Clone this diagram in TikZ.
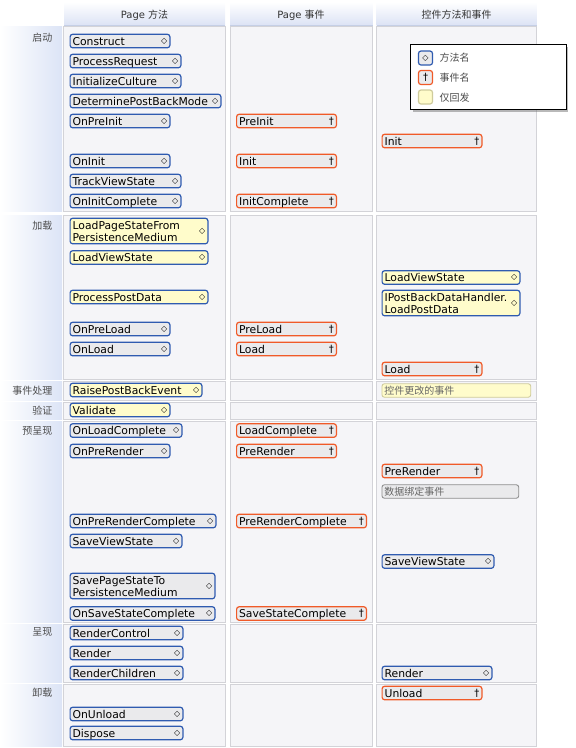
\documentclass[tikz,border=0pt]{standalone}
\usepackage{fontspec}
\setmainfont{DejaVu Sans}
\newfontfamily\cjk{Noto Sans CJK SC}
\usepackage{tikz}
\usetikzlibrary{shadows}

\definecolor{mblue}{HTML}{2F5BB0}
\definecolor{ered}{HTML}{F05A28}
\definecolor{boxgray}{HTML}{EAEAEC}
\definecolor{ylw}{HTML}{FFFCCB}
\definecolor{cellbg}{HTML}{F5F5F8}
\definecolor{cellline}{HTML}{D3D3D8}
\definecolor{lbl}{HTML}{DCE4F6}
\definecolor{hdr}{HTML}{DCE3F5}
\definecolor{hdrline}{HTML}{C5CFE6}
\definecolor{nline}{HTML}{CFCB9C}
\definecolor{dline}{HTML}{8E8E8E}

\begin{document}
\begin{tikzpicture}[x=1pt,y=-1pt,
  cell/.style={fill=cellbg,draw=cellline,line width=0.6pt},
  hd/.style={font=\fontsize{10}{12}\selectfont,text=black!80},
  lb/.style={anchor=east,font=\cjk\fontsize{10}{12}\selectfont,text=black!70},
  keytxt/.style={lb,anchor=west},
  box/.style={anchor=west,rounded corners=2.5pt,line width=1.2pt,fill=boxgray,
    inner xsep=2.5pt,inner ysep=1.5pt,text height=9.5pt,text depth=1pt,align=left,
    font=\fontsize{10.8}{12}\selectfont},
  w/.code={\pgfmathsetmacro\bwd{#1-6.2}\edef\bwset{\noexpand\pgfkeysalso{text width=\bwd pt}}\bwset},
  tall/.style={text depth=13pt},
  pb/.style={fill=ylw},
  icon/.style={anchor=east,inner sep=0pt,xshift=-3pt},
  meth/.style={box,draw=mblue,label={[icon,font=\fontsize{8}{8}\selectfont]east:◇}},
  evt/.style={box,draw=ered,label={[icon]east:†}},
  note/.style={box,line width=0.9pt,text=black!60,font=\cjk\fontsize{10}{12}\selectfont},
  key/.style={rounded corners=2.5pt,line width=1.2pt,minimum size=14pt,inner sep=0pt,fill=boxgray}]
\useasboundingbox (0,0) rectangle (576,748);

% rows and columns
\foreach \t/\b in {26/211.5,215/379.5,381.5/400,402/419.5,421.5/622,624/682.5,684/746}{
  \shade[left color=white,right color=lbl] (0,\t) rectangle (62,\b);
  \draw[cell] (63,\t) rectangle (225,\b);
  \draw[cell] (230,\t) rectangle (372.5,\b);
  \draw[cell] (376.5,\t) rectangle (536.5,\b);
}
\foreach \l/\r in {64/225,230/372.5,376.5/536.5}{
  \shade[top color=white,bottom color=hdr] (\l,2) rectangle (\r,25);
  \draw[hdrline] (\l,25) -- (\r,25);
}
\node[hd] (hmeth) at (144.5,15) {Page {\cjk 方法}};
\node[hd] (hevt) at (301,15) {Page {\cjk 事件}};
\node[hd,font=\cjk\fontsize{10}{12}\selectfont] (hctl) at (456.5,15) {控件方法和事件};

\node[lb] (start) at (56,38) {启动};
\node[lb] (load) at (56,226) {加载};
\node[lb] (events) at (56,391) {事件处理};
\node[lb] (valid) at (56,411) {验证};
\node[lb] (prerender) at (56,431) {预呈现};
\node[lb] (rendering) at (56,632) {呈现};
\node[lb] (unload) at (56,693) {卸载};

% legend
\node[draw=black,fill=white,line width=1pt,minimum width=155.5pt,minimum height=65pt,
  drop shadow={shadow xshift=2pt,shadow yshift=-2pt,fill=black!55}] (legend) at (488.3,77) {};
\node[key,draw=mblue,font=\fontsize{8}{8}\selectfont] (kmeth) at (425.5,58) {◇};
\node[key,draw=ered] (kevt) at (425.5,77.5) {†};
\node[key,draw=nline,fill=ylw] (kpb) at (425.5,97) {};
\node[keytxt] (tmeth) at (436,58) {方法名};
\node[keytxt] (tevt) at (436,78) {事件名};
\node[keytxt] (tpb) at (436,97.5) {仅回发};

% Page methods
\node[meth,w=101] (construct) at (69.5,41) {Construct};
\node[meth,w=112] (procreq) at (69.5,61) {ProcessRequest};
\node[meth,w=112] (initcult) at (69.5,81) {InitializeCulture};
\node[meth,w=152] (detpbm) at (69.5,101) {DeterminePostBackMode};
\node[meth,w=101] (onpreinit) at (69.5,121) {OnPreInit};
\node[meth,w=101] (oninit) at (69.5,161) {OnInit};
\node[meth,w=112] (trackvs) at (69.5,181) {TrackViewState};
\node[meth,w=112] (oninitc) at (69.5,201) {OnInitComplete};
\node[meth,pb,tall,w=139] (loadpspm) at (69.5,231) {LoadPageStateFrom\\PersistenceMedium};
\node[meth,pb,w=139] (loadvs) at (69.5,257.5) {LoadViewState};
\node[meth,pb,w=139] (procpd) at (69.5,297) {ProcessPostData};
\node[meth,w=101] (onpreload) at (69.5,329) {OnPreLoad};
\node[meth,w=101] (onload) at (69.5,349) {OnLoad};
\node[meth,pb,w=133] (raisepbe) at (69.5,390) {RaisePostBackEvent};
\node[meth,pb,w=101] (validate) at (69.5,410) {Validate};
\node[meth,w=113] (onloadc) at (69.5,430.5) {OnLoadComplete};
\node[meth,w=101] (onprer) at (69.5,451) {OnPreRender};
\node[meth,w=147] (onprerc) at (69.5,521) {OnPreRenderComplete};
\node[meth,w=113] (savevs) at (69.5,541) {SaveViewState};
\node[meth,tall,w=146] (savepspm) at (69.5,586) {SavePageStateTo\\PersistenceMedium};
\node[meth,w=146] (onsavesc) at (69.5,613.5) {OnSaveStateComplete};
\node[meth,w=114] (renderctl) at (69.5,633) {RenderControl};
\node[meth,w=114] (render) at (69.5,653) {Render};
\node[meth,w=114] (renderch) at (69.5,673) {RenderChildren};
\node[meth,w=114] (onunload) at (69.5,714) {OnUnload};
\node[meth,w=114] (dispose) at (69.5,733) {Dispose};

% Page events
\node[evt,w=101] (preinit) at (236,121) {PreInit};
\node[evt,w=101] (init) at (236,161) {Init};
\node[evt,w=101] (initc) at (236,201) {InitComplete};
\node[evt,w=101] (preload) at (236,329) {PreLoad};
\node[evt,w=101] (pload) at (236,349) {Load};
\node[evt,w=101] (loadc) at (236,430.5) {LoadComplete};
\node[evt,w=101] (prer) at (236,451) {PreRender};
\node[evt,w=131] (prerc) at (236,521) {PreRenderComplete};
\node[evt,w=131] (savesc) at (236,613.5) {SaveStateComplete};

% control methods and events
\node[evt,w=101] (cinit) at (381.5,141) {Init};
\node[meth,pb,w=139] (cloadvs) at (381.5,277.5) {LoadViewState};
\node[meth,pb,tall,w=139] (cloadpd) at (381.5,303) {IPostBackDataHandler.\\LoadPostData};
\node[evt,w=101] (cload) at (381.5,369) {Load};
\node[note,pb,draw=nline,w=150] (cchanged) at (381.5,390.5) {控件更改的事件};
\node[evt,w=101] (cprer) at (381.5,471) {PreRender};
\node[note,draw=dline,w=138] (cbind) at (381.5,491.5) {数据绑定事件};
\node[meth,w=113] (csavevs) at (381.5,561.5) {SaveViewState};
\node[meth,w=111] (crender) at (381.5,673) {Render};
\node[evt,w=101] (cunload) at (381.5,693) {Unload};
\end{tikzpicture}
\end{document}
